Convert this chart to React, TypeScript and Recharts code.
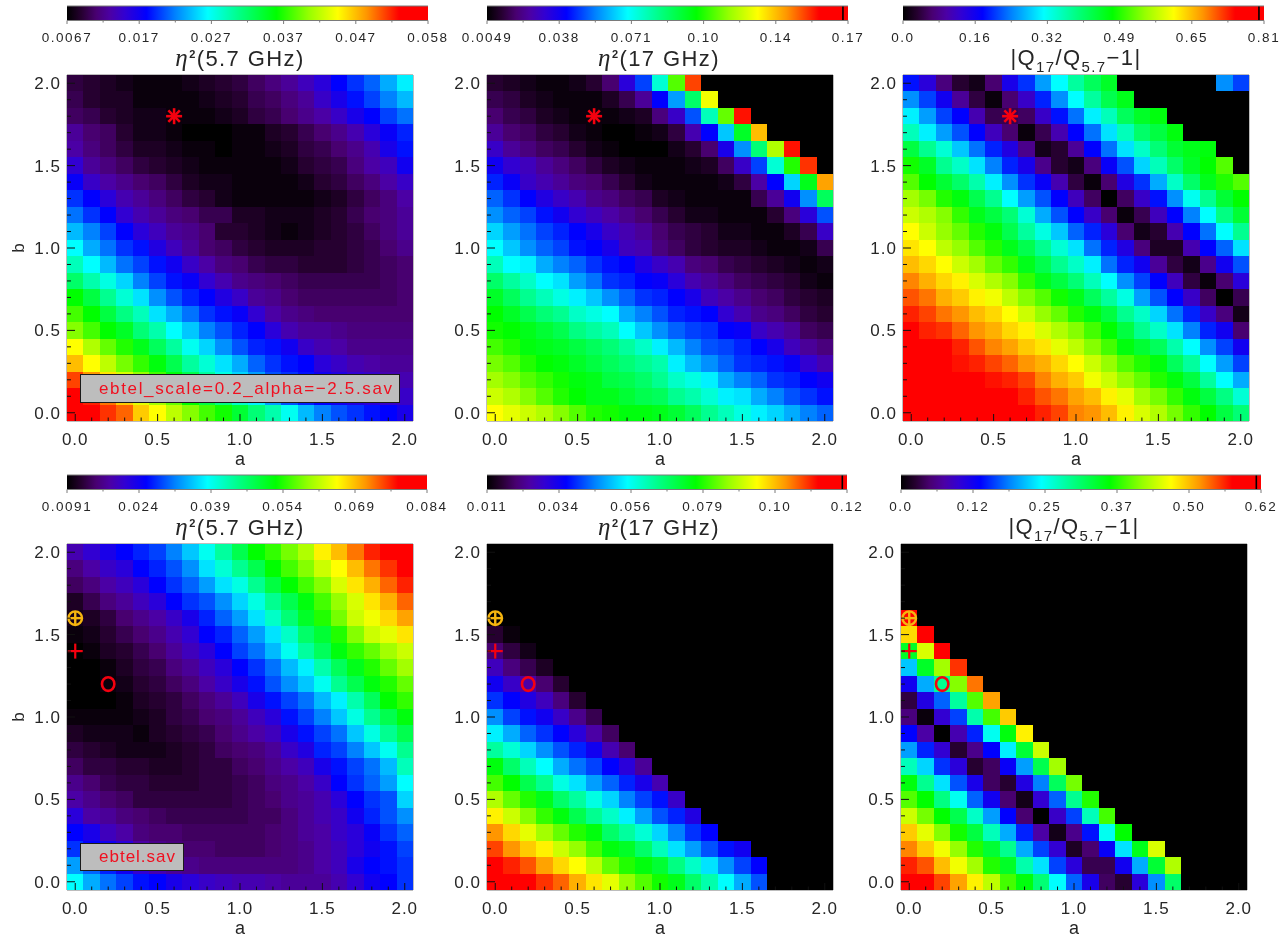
import { Bar, BarChart, ReferenceLine, Scatter, ScatterChart, XAxis, YAxis } from "recharts";

// Grid axes of every map. Rows below run from b=2.0 (top) down to b=0.0.
const aValues = [0, 0.1, 0.2, 0.3, 0.4, 0.5, 0.6, 0.7, 0.8, 0.9, 1, 1.1, 1.2, 1.3, 1.4, 1.5, 1.6, 1.7, 1.8, 1.9, 2];
const bValues = [2, 1.9, 1.8, 1.7, 1.6, 1.5, 1.4, 1.3, 1.2, 1.1, 1, 0.9, 0.8, 0.7, 0.6, 0.5, 0.4, 0.3, 0.2, 0.1, 0];
const axisTicks = aValues;
const majorTicks = [0, 0.5, 1, 1.5, 2];
const scaleTicks = [0, 10, 20, 30, 40, 50, 60, 70, 80, 90, 100];

// Cell values as percent of each panel's colour range; a missing cell is 0 (no solution).
const eta57Upper = [
  [5, 4, 3, 2, 1, 1, 1, 2, 3, 4, 5, 7, 9, 11, 14, 17, 22, 25, 28, 33, 38],
  [6, 4, 3, 3, 1, 1, 1, 1, 2, 3, 4, 6, 7, 9, 11, 15, 19, 23, 26, 30, 34],
  [7, 6, 4, 3, 2, 2, 1, 1, 1, 2, 3, 5, 6, 8, 10, 12, 15, 19, 22, 26, 29],
  [11, 8, 7, 4, 2, 2, 1, 0, 0, 0, 1, 1, 3, 4, 6, 8, 10, 13, 17, 21, 24],
  [12, 9, 7, 5, 3, 3, 2, 1, 1, 0, 1, 1, 2, 3, 5, 6, 8, 10, 13, 19, 23],
  [16, 11, 9, 7, 5, 4, 3, 2, 1, 1, 1, 1, 1, 2, 4, 5, 6, 9, 12, 14, 20],
  [21, 15, 12, 10, 8, 7, 5, 3, 2, 2, 1, 1, 1, 1, 2, 4, 5, 7, 9, 12, 15],
  [25, 22, 17, 13, 11, 9, 7, 5, 4, 2, 1, 1, 1, 1, 1, 2, 3, 5, 7, 9, 12],
  [29, 25, 22, 16, 13, 11, 9, 8, 6, 6, 3, 3, 2, 2, 2, 3, 4, 6, 8, 9, 11],
  [34, 30, 26, 22, 17, 14, 11, 10, 8, 4, 4, 3, 2, 1, 2, 3, 4, 5, 7, 9, 11],
  [39, 33, 29, 25, 23, 18, 14, 11, 8, 7, 5, 4, 3, 3, 3, 4, 4, 5, 6, 8, 10],
  [44, 39, 34, 29, 26, 23, 20, 15, 12, 9, 8, 6, 5, 5, 4, 4, 4, 5, 6, 7, 8],
  [50, 45, 41, 36, 30, 26, 23, 21, 16, 13, 10, 9, 8, 7, 6, 6, 6, 6, 6, 7, 8],
  [58, 53, 47, 42, 37, 31, 27, 24, 22, 18, 15, 11, 10, 8, 7, 7, 7, 7, 7, 7, 8],
  [62, 58, 53, 48, 44, 37, 33, 29, 25, 23, 21, 16, 12, 10, 9, 8, 8, 8, 8, 8, 8],
  [66, 62, 58, 55, 49, 45, 39, 35, 30, 27, 24, 22, 17, 13, 11, 11, 10, 9, 9, 9, 9],
  [75, 69, 64, 60, 56, 51, 46, 40, 36, 31, 27, 24, 23, 20, 15, 13, 12, 10, 10, 10, 10],
  [80, 75, 70, 65, 61, 57, 52, 46, 42, 37, 33, 28, 25, 23, 22, 17, 15, 13, 12, 11, 11],
  [88, 83, 77, 72, 67, 62, 57, 52, 46, 41, 36, 32, 27, 25, 23, 20, 18, 16, 15, 13, 13],
  [93, 90, 85, 79, 73, 68, 64, 58, 53, 48, 43, 38, 32, 27, 24, 22, 20, 18, 17, 15, 15],
  [94, 93, 89, 86, 79, 75, 70, 66, 62, 59, 54, 49, 45, 40, 34, 30, 27, 25, 23, 22, 19],
];

const eta17Upper = [
  [4, 3, 2, 1, 1, 2, 4, 8, 17, 26, 42, 63, 88],
  [6, 5, 3, 2, 1, 1, 1, 3, 6, 11, 22, 32, 50, 74],
  [8, 6, 5, 3, 2, 1, 1, 1, 2, 3, 9, 15, 27, 44, 64, 91],
  [11, 8, 7, 5, 4, 2, 1, 0, 0, 1, 2, 5, 13, 22, 35, 55, 80],
  [15, 11, 9, 7, 6, 4, 2, 1, 0, 0, 0, 2, 4, 8, 19, 31, 49, 69, 91],
  [20, 16, 14, 11, 9, 7, 5, 3, 2, 1, 1, 1, 2, 3, 7, 15, 26, 42, 60, 89],
  [24, 21, 15, 13, 11, 9, 8, 6, 4, 2, 1, 1, 1, 1, 2, 5, 12, 22, 36, 56, 82],
  [28, 25, 22, 18, 15, 13, 10, 9, 7, 6, 3, 2, 1, 1, 1, 1, 6, 11, 20, 31, 51],
  [31, 28, 26, 23, 20, 16, 14, 12, 10, 8, 6, 4, 2, 2, 1, 1, 1, 4, 9, 17, 27],
  [36, 32, 29, 26, 24, 22, 19, 15, 13, 11, 8, 6, 5, 4, 2, 2, 1, 1, 3, 6, 15],
  [39, 35, 31, 28, 26, 23, 22, 19, 14, 13, 9, 7, 5, 4, 3, 3, 2, 1, 1, 2, 6],
  [44, 39, 38, 33, 30, 28, 25, 23, 22, 18, 15, 13, 9, 8, 6, 5, 4, 3, 2, 1, 2],
  [50, 46, 43, 39, 37, 32, 29, 25, 24, 22, 21, 17, 13, 11, 9, 7, 6, 5, 4, 2, 1],
  [55, 51, 47, 44, 41, 38, 35, 31, 28, 25, 24, 22, 19, 14, 12, 10, 8, 7, 5, 4, 3],
  [58, 55, 52, 49, 47, 43, 41, 39, 33, 30, 27, 24, 23, 22, 16, 13, 10, 9, 7, 5, 4],
  [59, 58, 56, 54, 52, 48, 46, 44, 39, 35, 31, 28, 26, 25, 22, 21, 15, 13, 11, 7, 6],
  [62, 60, 57, 56, 55, 53, 51, 49, 46, 43, 38, 34, 30, 27, 26, 24, 22, 19, 14, 11, 9],
  [65, 63, 60, 58, 57, 55, 53, 51, 49, 47, 45, 38, 34, 31, 28, 25, 24, 23, 21, 16, 13],
  [68, 66, 63, 61, 59, 57, 56, 53, 52, 50, 47, 43, 41, 38, 33, 30, 28, 25, 24, 22, 20],
  [71, 69, 66, 63, 60, 58, 56, 56, 54, 52, 51, 47, 45, 42, 38, 37, 33, 30, 27, 25, 23],
  [75, 73, 71, 69, 66, 63, 60, 59, 57, 57, 56, 54, 51, 47, 44, 41, 38, 36, 33, 30, 28],
];

const ratioUpper = [
  [23, 17, 9, 4, 2, 8, 19, 25, 32, 39, 46, 51, 55, 0, 0, 0, 0, 0, 0, 31, 26],
  [31, 26, 20, 11, 5, 1, 8, 15, 24, 31, 39, 46, 52, 56],
  [38, 32, 26, 22, 13, 6, 6, 7, 15, 23, 29, 38, 44, 51, 55, 57],
  [44, 38, 32, 27, 22, 14, 8, 1, 6, 13, 22, 29, 37, 44, 50, 53, 57],
  [53, 47, 42, 35, 29, 24, 18, 10, 2, 4, 11, 22, 29, 37, 43, 49, 54, 56, 57],
  [59, 55, 47, 43, 37, 30, 24, 19, 10, 4, 2, 9, 21, 27, 36, 44, 50, 55, 58, 63],
  [63, 58, 54, 50, 45, 38, 31, 25, 21, 13, 5, 1, 8, 18, 25, 33, 43, 50, 56, 60, 63],
  [68, 65, 60, 57, 52, 47, 39, 32, 27, 22, 14, 7, 0, 7, 15, 23, 31, 40, 47, 54, 58],
  [71, 69, 66, 61, 56, 53, 49, 42, 33, 27, 22, 15, 8, 1, 6, 14, 22, 30, 39, 48, 54],
  [75, 71, 67, 64, 60, 57, 52, 46, 41, 35, 28, 24, 17, 8, 2, 4, 13, 22, 29, 39, 47],
  [77, 75, 70, 67, 63, 60, 56, 52, 47, 42, 37, 29, 24, 18, 9, 3, 3, 13, 22, 28, 37],
  [80, 78, 75, 71, 68, 64, 61, 56, 52, 47, 43, 38, 29, 24, 20, 11, 5, 2, 10, 20, 27],
  [84, 81, 78, 76, 72, 69, 66, 61, 56, 53, 49, 44, 39, 31, 26, 22, 14, 5, 1, 8, 17],
  [87, 85, 81, 79, 76, 74, 70, 66, 63, 59, 56, 51, 46, 41, 32, 27, 22, 15, 7, 0, 6],
  [90, 88, 85, 83, 80, 78, 75, 71, 67, 64, 60, 57, 53, 47, 43, 36, 29, 24, 15, 9, 2],
  [92, 90, 89, 86, 83, 81, 78, 76, 72, 69, 66, 62, 58, 53, 47, 43, 37, 30, 24, 20, 8],
  [94, 93, 92, 90, 87, 84, 82, 79, 77, 73, 70, 66, 62, 57, 54, 51, 45, 39, 31, 26, 20],
  [95, 95, 95, 91, 90, 88, 86, 83, 81, 78, 75, 71, 67, 63, 60, 57, 51, 46, 39, 32, 26],
  [96, 96, 96, 95, 93, 91, 90, 88, 84, 81, 79, 74, 71, 67, 64, 60, 57, 53, 46, 39, 33],
  [97, 97, 97, 96, 96, 94, 92, 90, 87, 85, 82, 80, 76, 73, 68, 65, 61, 57, 53, 48, 42],
  [98, 98, 97, 97, 96, 95, 94, 93, 90, 88, 84, 83, 80, 76, 72, 69, 65, 61, 58, 53, 49],
];

const eta57Lower = [
  [13, 16, 19, 22, 24, 26, 30, 35, 40, 46, 52, 58, 61, 65, 69, 76, 80, 85, 90, 93, 94],
  [9, 12, 15, 17, 22, 24, 27, 31, 37, 42, 47, 52, 58, 62, 66, 71, 75, 80, 85, 89, 93],
  [7, 9, 12, 14, 17, 22, 25, 28, 32, 37, 41, 47, 53, 58, 62, 66, 72, 77, 81, 86, 90],
  [3, 6, 9, 11, 14, 17, 22, 25, 27, 31, 36, 41, 47, 52, 57, 62, 67, 72, 77, 81, 86],
  [2, 3, 5, 8, 10, 12, 15, 19, 24, 28, 32, 37, 43, 49, 55, 60, 65, 71, 74, 78, 82],
  [1, 2, 4, 6, 8, 10, 13, 16, 22, 24, 28, 32, 37, 43, 50, 54, 60, 66, 71, 73, 77],
  [0, 1, 3, 4, 6, 8, 11, 14, 17, 22, 26, 29, 34, 40, 46, 51, 57, 61, 64, 68, 71],
  [0, 0, 1, 3, 5, 6, 9, 11, 14, 17, 22, 25, 29, 34, 38, 45, 51, 56, 60, 64, 68],
  [0, 0, 1, 2, 4, 5, 7, 9, 12, 15, 19, 23, 27, 31, 35, 40, 47, 52, 57, 60, 64],
  [0, 0, 0, 1, 3, 4, 5, 7, 9, 11, 14, 19, 23, 26, 29, 34, 38, 45, 51, 58, 61],
  [1, 1, 1, 1, 2, 3, 5, 6, 8, 9, 11, 14, 17, 23, 26, 30, 35, 41, 47, 52, 57],
  [3, 2, 2, 2, 1, 3, 4, 5, 6, 8, 10, 12, 14, 19, 23, 26, 29, 35, 41, 47, 52],
  [5, 4, 3, 2, 2, 2, 3, 4, 5, 7, 8, 9, 11, 15, 18, 24, 26, 30, 35, 40, 47],
  [7, 5, 5, 4, 4, 3, 3, 4, 5, 5, 7, 8, 10, 12, 14, 19, 23, 26, 29, 34, 44],
  [10, 8, 6, 5, 5, 4, 4, 4, 5, 5, 6, 7, 9, 10, 12, 15, 22, 25, 28, 32, 39],
  [12, 10, 8, 7, 5, 5, 5, 5, 5, 5, 6, 7, 8, 10, 11, 13, 17, 22, 25, 27, 36],
  [17, 12, 11, 9, 8, 7, 6, 6, 6, 6, 6, 7, 7, 9, 11, 13, 15, 20, 24, 27, 31],
  [22, 19, 14, 12, 9, 8, 8, 7, 7, 7, 7, 7, 8, 9, 11, 12, 15, 17, 21, 25, 28],
  [25, 22, 20, 17, 12, 10, 9, 8, 8, 7, 7, 7, 8, 9, 10, 12, 14, 17, 20, 23, 26],
  [32, 28, 24, 20, 16, 13, 11, 10, 9, 9, 9, 9, 9, 9, 10, 12, 14, 19, 22, 23, 25],
  [39, 33, 29, 26, 23, 22, 19, 17, 15, 14, 13, 13, 12, 11, 11, 11, 13, 16, 20, 22, 25],
];

const eta17Lower = [
  [],
  [],
  [],
  [],
  [],
  [4, 1],
  [8, 5, 2],
  [14, 9, 6, 3],
  [20, 15, 12, 8, 4],
  [25, 22, 18, 14, 9, 4],
  [31, 26, 23, 20, 15, 10, 6],
  [38, 33, 28, 25, 22, 17, 12, 7],
  [46, 42, 36, 31, 27, 24, 20, 13, 8],
  [57, 50, 44, 39, 33, 29, 26, 22, 17, 11],
  [62, 58, 52, 47, 41, 37, 32, 28, 24, 19, 13],
  [69, 64, 60, 56, 50, 46, 41, 36, 30, 26, 23, 15],
  [76, 71, 66, 61, 57, 52, 47, 43, 38, 32, 27, 24, 18],
  [83, 78, 73, 68, 64, 60, 57, 50, 46, 42, 36, 30, 25, 22],
  [88, 83, 79, 76, 71, 67, 62, 57, 55, 50, 44, 37, 32, 27, 23, 20],
  [93, 90, 87, 82, 78, 75, 70, 64, 60, 57, 54, 48, 43, 37, 31, 26, 22],
  [97, 96, 95, 89, 86, 81, 77, 73, 67, 63, 59, 56, 50, 45, 39, 33, 27],
];

const ratioLower = [
  [],
  [],
  [],
  [],
  [95],
  [78, 94],
  [55, 72, 95],
  [35, 55, 68, 89],
  [20, 33, 47, 66, 85],
  [5, 18, 28, 46, 63, 82],
  [9, 1, 16, 26, 45, 62, 79],
  [22, 12, 0, 13, 24, 40, 57, 76],
  [32, 24, 16, 4, 10, 22, 38, 54, 71],
  [44, 36, 25, 17, 4, 7, 21, 32, 52, 68],
  [57, 47, 37, 27, 19, 7, 4, 18, 30, 51, 65],
  [63, 58, 48, 40, 28, 20, 8, 2, 16, 28, 47, 60],
  [71, 65, 58, 52, 43, 32, 22, 8, 0, 15, 26, 44, 62],
  [79, 73, 66, 59, 53, 44, 33, 24, 12, 2, 10, 23, 40, 58],
  [84, 79, 74, 67, 60, 54, 47, 33, 26, 16, 3, 8, 21, 37, 56, 72],
  [90, 87, 80, 74, 68, 60, 55, 45, 37, 26, 17, 6, 6, 20, 33, 54, 69],
  [94, 93, 88, 82, 76, 70, 62, 57, 49, 39, 28, 19, 7, 4, 17, 31, 50],
];

// Colour bar tick labels, low to high
const labelsEta57Upper = ["0.0067", "0.017", "0.027", "0.037", "0.047", "0.058"];
const labelsEta17Upper = ["0.0049", "0.038", "0.071", "0.10", "0.14", "0.17"];
const labelsRatioUpper = ["0.0", "0.16", "0.32", "0.49", "0.65", "0.81"];
const labelsEta57Lower = ["0.0091", "0.024", "0.039", "0.054", "0.069", "0.084"];
const labelsEta17Lower = ["0.011", "0.034", "0.056", "0.079", "0.10", "0.12"];
const labelsRatioLower = ["0.0", "0.12", "0.25", "0.37", "0.50", "0.62"];

// Best-fit markers in (a, b)
const starPoints = [{ a: 0.6, b: 1.8 }];
const crossCirclePoints = [{ a: 0, b: 1.6 }];
const plusPoints = [{ a: 0, b: 1.4 }];
const circlePoints = [{ a: 0.2, b: 1.2 }];

const colorStops: [number, number[]][] = [
  [0, [0, 0, 0]],
  [4, [38, 0, 48]],
  [8, [72, 0, 112]],
  [12, [75, 0, 165]],
  [16, [50, 0, 210]],
  [22, [0, 0, 255]],
  [30, [0, 130, 255]],
  [39, [0, 255, 255]],
  [48, [0, 255, 130]],
  [58, [0, 255, 0]],
  [67, [150, 255, 0]],
  [75, [255, 255, 0]],
  [83, [255, 150, 0]],
  [92, [255, 0, 0]],
  [100, [255, 0, 0]],
];

const FONT = "'Liberation Sans', Arial, sans-serif";
const TEXT = "#262626";
const FRAME = "#7a7a7a";
const PLOT = 346;
const BAR_W = 361;
const BAR_H = 14.5;
const RED = "#f5000f";
const GOLD = "#f5b50f";

function levelColor(level: number) {
  for (let i = 1; i < colorStops.length; i++) {
    const [hi, c1] = colorStops[i];
    if (level <= hi) {
      const [lo, c0] = colorStops[i - 1];
      const t = (level - lo) / (hi - lo);
      const c = c0.map((v, k) => Math.round(v + (c1[k] - v) * t));
      return `rgb(${c.join(",")})`;
    }
  }
  return "rgb(255,0,0)";
}

const toCells = (rows: number[][]) =>
  bValues.flatMap((b, j) => aValues.map((a, i) => ({ a, b, level: rows[j][i] ?? 0 })));

const isMajor = (v: number) => majorTicks.includes(v);

function BottomTick({ x, y, payload }: any) {
  const major = isMajor(payload.value);
  return (
    <g>
      <line x1={x} x2={x} y1={y} y2={y - (major ? 7 : 3.5)} stroke="#111" />
      {major && (
        <text x={x} y={y + 23.5} textAnchor="middle" fontFamily={FONT} fontSize={17} letterSpacing={1} fill={TEXT}>
          {payload.value.toFixed(1)}
        </text>
      )}
    </g>
  );
}

function TopTick({ x, y, payload }: any) {
  return <line x1={x} x2={x} y1={y} y2={y + (isMajor(payload.value) ? 7 : 3.5)} stroke="#111" />;
}

function LeftTick({ x, y, payload }: any) {
  const major = isMajor(payload.value);
  return (
    <g>
      <line x1={x} x2={x + (major ? 8 : 4)} y1={y} y2={y} stroke="#111" />
      {major && (
        <text x={x - 6} y={y + 6} textAnchor="end" fontFamily={FONT} fontSize={17} letterSpacing={1} fill={TEXT}>
          {payload.value.toFixed(1)}
        </text>
      )}
    </g>
  );
}

function RightTick({ x, y, payload }: any) {
  return <line x1={x} x2={x - (isMajor(payload.value) ? 8 : 4)} y1={y} y2={y} stroke="#111" />;
}

function HeatCell({ cx, cy, payload }: any) {
  const half = PLOT / aValues.length / 2;
  const x0 = Math.round(cx - half);
  const y0 = Math.round(cy - half);
  return (
    <rect
      x={x0}
      y={y0}
      width={Math.round(cx + half) - x0}
      height={Math.round(cy + half) - y0}
      fill={levelColor(payload.level)}
      shapeRendering="crispEdges"
    />
  );
}

function StarMark({ cx, cy }: any) {
  const r = 8;
  const d = r * 0.72;
  return (
    <g stroke={RED} strokeWidth={2.6}>
      <line x1={cx - r} x2={cx + r} y1={cy} y2={cy} />
      <line x1={cx} x2={cx} y1={cy - r} y2={cy + r} />
      <line x1={cx - d} x2={cx + d} y1={cy - d} y2={cy + d} />
      <line x1={cx - d} x2={cx + d} y1={cy + d} y2={cy - d} />
    </g>
  );
}

function CrossCircleMark({ cx, cy }: any) {
  return (
    <g stroke={GOLD} strokeWidth={2.4} fill="none">
      <circle cx={cx} cy={cy} r={6.8} />
      <line x1={cx - 6.8} x2={cx + 6.8} y1={cy} y2={cy} />
      <line x1={cx} x2={cx} y1={cy - 6.8} y2={cy + 6.8} />
    </g>
  );
}

function PlusMark({ cx, cy }: any) {
  return (
    <g stroke={RED} strokeWidth={2.2}>
      <line x1={cx - 7.5} x2={cx + 7.5} y1={cy} y2={cy} />
      <line x1={cx} x2={cx} y1={cy - 7.5} y2={cy + 7.5} />
    </g>
  );
}

function CircleMark({ cx, cy }: any) {
  return <ellipse cx={cx} cy={cy} rx={6.2} ry={6.8} stroke={RED} strokeWidth={2.6} fill="none" />;
}

function MapPanel({ rows, left, top, yLabel, markers }: any) {
  // each axis takes 1px of room, so the plot keeps its exact size
  const margin = { top: 9, right: 19, bottom: 49, left: 59 };
  const axisProps = { type: "number", domain: [-0.05, 2.05], ticks: axisTicks, interval: 0, tickSize: 0, tickMargin: 0, tickLine: false, stroke: FRAME } as const;
  return (
    <div style={{ position: "absolute", left: left - 60, top: top - 10 }}>
      <ScatterChart width={PLOT + 80} height={PLOT + 60} margin={margin}>
        <Scatter xAxisId="bottom" yAxisId="left" data={toCells(rows)} shape={<HeatCell />} isAnimationActive={false} />
        <XAxis {...axisProps} xAxisId="bottom" dataKey="a" height={1} tick={<BottomTick />} />
        <XAxis {...axisProps} xAxisId="top" orientation="top" dataKey="a" height={1} tick={<TopTick />} />
        <YAxis {...axisProps} yAxisId="left" dataKey="b" width={1} tick={<LeftTick />} />
        <YAxis {...axisProps} yAxisId="right" orientation="right" dataKey="b" width={1} tick={<RightTick />} />
        {markers === "star" && (
          <Scatter xAxisId="bottom" yAxisId="left" data={starPoints} shape={<StarMark />} isAnimationActive={false} />
        )}
        {markers === "fits" && (
          <Scatter xAxisId="bottom" yAxisId="left" data={crossCirclePoints} shape={<CrossCircleMark />} isAnimationActive={false} />
        )}
        {markers === "fits" && (
          <Scatter xAxisId="bottom" yAxisId="left" data={plusPoints} shape={<PlusMark />} isAnimationActive={false} />
        )}
        {markers === "fits" && (
          <Scatter xAxisId="bottom" yAxisId="left" data={circlePoints} shape={<CircleMark />} isAnimationActive={false} />
        )}
        <text x={60 + PLOT / 2} y={10 + PLOT + 44} textAnchor="middle" fontFamily={FONT} fontSize={18} fill={TEXT}>a</text>
        {yLabel && (
          <text transform={`translate(17 ${10 + PLOT / 2}) rotate(-90)`} textAnchor="middle" fontFamily={FONT} fontSize={17} fill={TEXT}>b</text>
        )}
      </ScatterChart>
    </div>
  );
}

function BarBottomTick({ x, y, payload, labels }: any) {
  const v = payload.value;
  const major = v % 20 === 0;
  return (
    <g>
      <line x1={x} x2={x} y1={y} y2={y + (major ? 3.5 : 2)} stroke={FRAME} />
      {major && (
        <text x={x} y={y + 21.5} textAnchor="middle" fontFamily={FONT} fontSize={13.5} letterSpacing={1.5} fill={TEXT}>
          {labels[v / 20]}
        </text>
      )}
    </g>
  );
}

function BarTopTick({ x, y, payload }: any) {
  return <line x1={x} x2={x} y1={y} y2={y - (payload.value % 20 === 0 ? 3.5 : 2)} stroke={FRAME} />;
}

function ColorBar({ id, labels, left, top, width, marker }: any) {
  const fullRange = [{ name: "range", level: 100 }];
  const axisProps = { type: "number", domain: [0, 100], ticks: scaleTicks, interval: 0, tickSize: 0, tickMargin: 0, tickLine: false, stroke: FRAME, height: 1 } as const;
  return (
    <div style={{ position: "absolute", left: left - 32, top: top - 6 }}>
      <BarChart
        layout="vertical"
        width={width + 64}
        height={BAR_H + 36}
        data={fullRange}
        margin={{ top: 5, right: 32, bottom: 29, left: 32 }}
        barCategoryGap={0}
      >
        <defs>
          <linearGradient id={id} x1="0" x2="1" y1="0" y2="0">
            {colorStops.map(([pos]) => (
              <stop key={pos} offset={`${pos}%`} stopColor={levelColor(pos)} />
            ))}
          </linearGradient>
        </defs>
        <Bar xAxisId="bottom" dataKey="level" fill={`url(#${id})`} isAnimationActive={false} />
        <XAxis {...axisProps} xAxisId="bottom" tick={<BarBottomTick labels={labels} />} />
        <XAxis {...axisProps} xAxisId="top" orientation="top" tick={<BarTopTick />} />
        <YAxis dataKey="name" type="category" hide />
        {marker && <ReferenceLine xAxisId="bottom" x={marker} stroke="#000" strokeWidth={1.6} />}
      </BarChart>
    </div>
  );
}

function EtaTitle({ center, top, ghz }: any) {
  return (
    <div style={{ position: "absolute", left: center - 120, width: 240, top, textAlign: "center", fontFamily: FONT, fontSize: 22, letterSpacing: 1.4, color: TEXT, lineHeight: "26px", whiteSpace: "pre" }}>
      <span style={{ fontFamily: "'Liberation Serif', serif", fontStyle: "italic", fontSize: 25 }}>η</span>
      <span style={{ fontSize: 11, position: "relative", top: -8, fontWeight: 700 }}>2</span>
      {`(${ghz} GHz)`}
    </div>
  );
}

function RatioTitle({ center, top }: any) {
  const sub = { fontSize: 15, position: "relative", top: 7 } as const;
  return (
    <div style={{ position: "absolute", left: center - 120, width: 240, top, textAlign: "center", fontFamily: FONT, fontSize: 22, letterSpacing: 1.4, color: TEXT, lineHeight: "26px", whiteSpace: "pre" }}>
      {"|Q"}
      <span style={sub}>17</span>
      {"/Q"}
      <span style={sub}>5.7</span>
      {"−1|"}
    </div>
  );
}

function FileTag({ left, top, width, height, textX, textW, children }: any) {
  return (
    <svg style={{ position: "absolute", left, top, overflow: "visible" }} width={width} height={height}>
      <rect x={0.5} y={0.5} width={width - 1} height={height - 1} fill="#bdbdbd" stroke="#1a1a1a" strokeWidth={1} />
      <text x={textX} y={height - 9} textLength={textW} lengthAdjust="spacing" fontFamily={FONT} fontSize={17} fill="#f01020">
        {children}
      </text>
    </svg>
  );
}

export default function App() {
  return (
    <div style={{ position: "absolute", left: 0, top: 0, width: 1280, height: 938, background: "#fff", overflow: "hidden", filter: "blur(0.4px)" }}>
      <ColorBar id="rainbow1" labels={labelsEta57Upper} left={67} top={5.5} width={BAR_W} />
      <ColorBar id="rainbow2" labels={labelsEta17Upper} left={487} top={5.5} width={BAR_W} marker={98.6} />
      <ColorBar id="rainbow3" labels={labelsRatioUpper} left={903} top={5.5} width={BAR_W} marker={98.6} />
      <ColorBar id="rainbow4" labels={labelsEta57Lower} left={67} top={475} width={360} />
      <ColorBar id="rainbow5" labels={labelsEta17Lower} left={487} top={475} width={360} marker={98.7} />
      <ColorBar id="rainbow6" labels={labelsRatioLower} left={901} top={475} width={360} marker={98.7} />

      <EtaTitle center={240} top={45} ghz="5.7" />
      <EtaTitle center={659} top={45} ghz="17" />
      <RatioTitle center={1076} top={45} />
      <EtaTitle center={240} top={514} ghz="5.7" />
      <EtaTitle center={659} top={514} ghz="17" />
      <RatioTitle center={1074} top={514} />

      <MapPanel rows={eta57Upper} left={67} top={74.5} yLabel markers="star" />
      <MapPanel rows={eta17Upper} left={487} top={74.5} markers="star" />
      <MapPanel rows={ratioUpper} left={903} top={74.5} markers="star" />
      <MapPanel rows={eta57Lower} left={67} top={543.5} yLabel markers="fits" />
      <MapPanel rows={eta17Lower} left={486.5} top={543.5} markers="fits" />
      <MapPanel rows={ratioLower} left={901} top={543.5} markers="fits" />

      <FileTag left={80} top={374} width={320} height={29} textX={19} textW={293}>
        ebtel_scale=0.2_alpha=−2.5.sav
      </FileTag>
      <FileTag left={80} top={843} width={104} height={28} textX={19} textW={76}>
        ebtel.sav
      </FileTag>
    </div>
  );
}
